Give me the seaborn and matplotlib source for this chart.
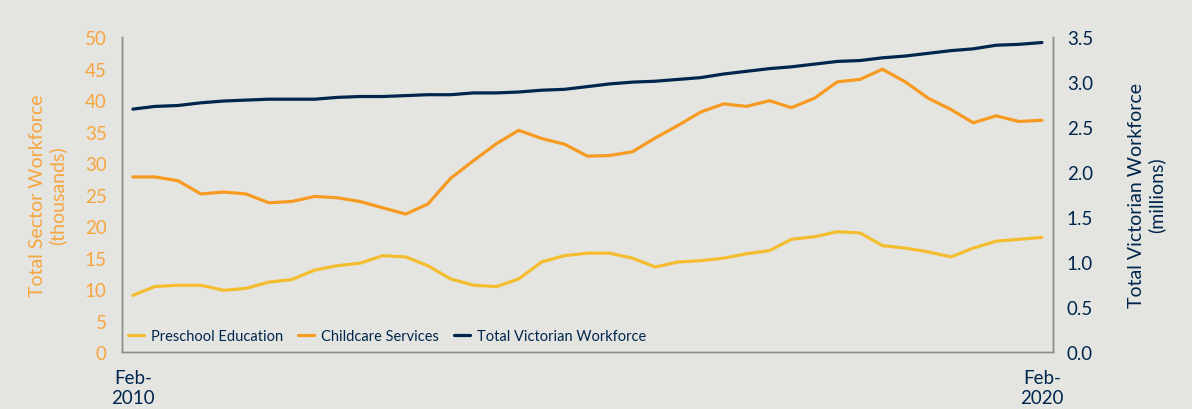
import pandas as pd
import matplotlib.pyplot as plt
import seaborn as sns

# Quarterly, Feb-2010 to Feb-2020
dates = pd.date_range("2010-02-01", "2020-02-01", freq="3MS")

preschool = [9.0, 10.4, 10.6, 10.6, 9.8, 10.1, 11.1, 11.5, 13.0, 13.7,
             14.1, 15.3, 15.1, 13.7, 11.6, 10.6, 10.4, 11.6, 14.3, 15.3,
             15.7, 15.7, 14.9, 13.5, 14.3, 14.5, 14.9, 15.6, 16.1, 17.9,
             18.3, 19.1, 18.9, 16.9, 16.5, 15.9, 15.1, 16.5, 17.6, 17.9, 18.2]
childcare = [27.8, 27.8, 27.2, 25.1, 25.4, 25.1, 23.7, 23.9, 24.7, 24.5,
             23.9, 22.9, 21.9, 23.5, 27.6, 30.4, 33.1, 35.2, 33.9, 33.0,
             31.1, 31.2, 31.8, 34.0, 36.0, 38.1, 39.4, 39.0, 39.9, 38.8,
             40.3, 42.9, 43.3, 44.9, 42.9, 40.3, 38.5, 36.4, 37.5, 36.6, 36.8]
victoria = [2.70, 2.73, 2.74, 2.77, 2.79, 2.80, 2.81, 2.81, 2.81, 2.83,
            2.84, 2.84, 2.85, 2.86, 2.86, 2.88, 2.88, 2.89, 2.91, 2.92,
            2.95, 2.98, 3.00, 3.01, 3.03, 3.05, 3.09, 3.12, 3.15, 3.17,
            3.20, 3.23, 3.24, 3.27, 3.29, 3.32, 3.35, 3.37, 3.41, 3.42, 3.44]

df = pd.DataFrame({"date": dates, "Preschool Education": preschool,
                   "Childcare Services": childcare, "Total Victorian Workforce": victoria})

bg = "#E4E5E0"
yellow = "#F4BD30"
orange = "#F79A22"
navy = "#00264D"
axis_orange = "#F7A540"

sns.set_theme(style="white", rc={"axes.facecolor": bg, "figure.facecolor": bg})
plt.rcParams["font.family"] = ["Lato", "DejaVu Sans"]

fig = plt.figure(figsize=(11.92, 4.10), dpi=100)
ax = fig.add_axes([0.1023, 0.139, 0.781, 0.768])
ax2 = ax.twinx()

lw = 2.3
sns.lineplot(data=df, x="date", y="Preschool Education", ax=ax, color=yellow, lw=lw,
             label="Preschool Education", legend=False)
sns.lineplot(data=df, x="date", y="Childcare Services", ax=ax, color=orange, lw=lw,
             label="Childcare Services", legend=False)
sns.lineplot(data=df, x="date", y="Total Victorian Workforce", ax=ax2, color=navy, lw=lw,
             label="Total Victorian Workforce", legend=False)

ax.set_ylim(0, 50)
ax.set_yticks(range(0, 51, 5))
ax2.set_ylim(0, 3.5)
ax2.set_yticks([i * 0.5 for i in range(8)])
ax2.set_yticklabels([f"{i * 0.5:.1f}" for i in range(8)])

pad = pd.Timedelta(days=44)
ax.set_xlim(dates[0] - pad, dates[-1] + pad)
ax.set_xticks([dates[0], dates[-1]])
ax.set_xticklabels(["Feb-\n2010", "Feb-\n2020"], linespacing=1.25)

ax.tick_params(axis="y", colors=axis_orange, labelsize=13.5, length=0, pad=11)
ax.tick_params(axis="x", colors=navy, labelsize=13.5, length=0, pad=12)
ax2.tick_params(axis="y", colors=navy, labelsize=13.5, length=0, pad=10)

ax.set_xlabel("")
ax.set_ylabel("Total Sector Workforce\n(thousands)", color=axis_orange, fontsize=14,
              labelpad=13, linespacing=1.15)
ax2.set_ylabel("Total Victorian Workforce\n(millions)", color=navy, fontsize=14,
               labelpad=25, linespacing=1.15)

for a in (ax, ax2):
    for side in ("left", "right", "bottom"):
        a.spines[side].set_color("#8C8C8C")
        a.spines[side].set_linewidth(1)
    a.spines["top"].set_visible(False)

h1, l1 = ax.get_legend_handles_labels()
h2, l2 = ax2.get_legend_handles_labels()
leg = ax.legend(h1 + h2, l1 + l2, loc="lower left", ncol=3, frameon=False,
                fontsize=10.5, handlelength=1.1, handletextpad=0.5, columnspacing=1.0,
                borderaxespad=0, borderpad=0.4, bbox_to_anchor=(0.0, 0.01),
                labelcolor=navy)
leg.set_zorder(5)

fig.savefig("out.png", dpi=100, facecolor=bg)
